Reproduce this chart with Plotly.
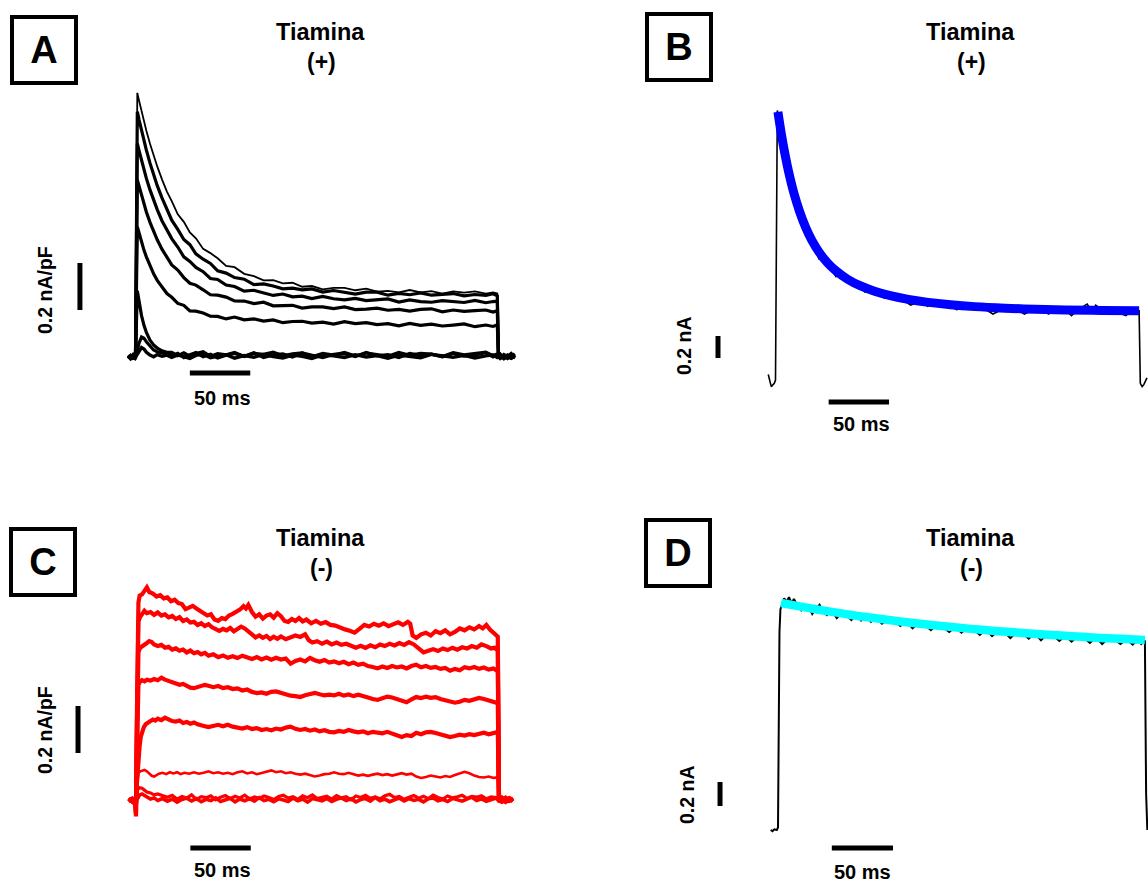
import plotly.graph_objects as go

# reference canvas is 1148x882; the page body margin is removed by a small post-script
REF_W, REF_H = 1148, 882
PAGE_MARGIN = 0
W, H = REF_W - 2 * PAGE_MARGIN, REF_H - 2 * PAGE_MARGIN

# ================= Panel A : Tiamina (+) , current density (nA/pF) vs time (ms)
tA = [-6, -4, -2, -0.5, 0, 1.5, 3, 5, 7, 9, 12, 15, 18, 22, 26, 30, 35, 40, 45, 50, 56, 62, 68, 75, 82,
      90, 98, 106, 114, 122, 130, 138, 146, 155, 164, 173, 182, 191, 200, 209, 218, 227, 236, 245, 254,
      263, 272, 281, 290, 296, 299.5, 300.5, 302, 305, 308, 311, 314]
a1 = [0.004, -0.006, 0.003, -0.004, 0.0,
      1.124, 1.090, 1.045, 1.003, 0.963, 0.907, 0.857, 0.811, 0.755, 0.704,
      0.663, 0.607, 0.575, 0.530, 0.505, 0.460, 0.442, 0.420, 0.388, 0.382, 0.354, 0.344, 0.326, 0.327,
      0.313, 0.316, 0.299, 0.302, 0.288, 0.294, 0.294, 0.284, 0.291, 0.278, 0.281, 0.275, 0.285, 0.275,
      0.280, 0.270, 0.279, 0.274, 0.279, 0.270, 0.275, 0.270,
      0.003, -0.008, 0.006, -0.004, 0.005, -0.002]
a2 = [-0.003, 0.005, -0.002, 0.004, 0.0,
      1.044, 1.008, 0.963, 0.920, 0.880, 0.825, 0.775, 0.729, 0.676, 0.628,
      0.582, 0.543, 0.500, 0.478, 0.439, 0.416, 0.398, 0.367, 0.357, 0.338, 0.331, 0.308, 0.311, 0.302,
      0.290, 0.293, 0.286, 0.290, 0.276, 0.283, 0.274, 0.268, 0.276, 0.276, 0.263, 0.271, 0.265, 0.273,
      0.263, 0.267, 0.270, 0.260, 0.266, 0.262, 0.269, 0.260,
      -0.004, 0.007, -0.003, 0.002, -0.006, 0.004]
a3 = [0.006, -0.003, 0.004, -0.005, 0.0,
      0.909, 0.877, 0.835, 0.797, 0.760, 0.711, 0.667, 0.627, 0.579, 0.539,
      0.504, 0.468, 0.426, 0.407, 0.381, 0.363, 0.334, 0.330, 0.306, 0.300, 0.280, 0.284, 0.273, 0.262,
      0.268, 0.256, 0.259, 0.249, 0.258, 0.248, 0.243, 0.249, 0.240, 0.244, 0.247, 0.234, 0.243, 0.236,
      0.233, 0.240, 0.237, 0.232, 0.241, 0.231, 0.236, 0.238,
      0.005, -0.006, 0.002, 0.007, -0.004, 0.001]
a4 = [-0.004, 0.003, -0.006, 0.002, 0.0,
      0.754, 0.724, 0.685, 0.650, 0.617, 0.573, 0.533, 0.499, 0.458, 0.424,
      0.392, 0.370, 0.338, 0.314, 0.306, 0.286, 0.265, 0.263, 0.255, 0.239, 0.238, 0.227, 0.233, 0.218,
      0.220, 0.220, 0.208, 0.213, 0.213, 0.206, 0.213, 0.202, 0.204, 0.208, 0.199, 0.203, 0.195, 0.203,
      0.205, 0.192, 0.200, 0.194, 0.197, 0.200, 0.191, 0.197,
      0.006, -0.002, 0.004, -0.007, 0.003, -0.003]
a5 = [0.002, -0.005, 0.006, -0.002, 0.0,
      0.554, 0.524, 0.488, 0.455, 0.426, 0.386, 0.354, 0.326, 0.295, 0.270,
      0.254, 0.228, 0.220, 0.196, 0.195, 0.187, 0.174, 0.173, 0.162, 0.170, 0.158, 0.162, 0.153, 0.158,
      0.146, 0.151, 0.152, 0.144, 0.148, 0.140, 0.150, 0.142, 0.146, 0.138, 0.142, 0.133, 0.143, 0.135,
      0.140, 0.132, 0.136, 0.141, 0.129, 0.136, 0.130, 0.137,
      -0.005, 0.004, -0.006, 0.005, -0.002, 0.006]
a6 = [0.008, -0.004, 0.010, -0.002, 0.0,
      0.282, 0.230, 0.176, 0.135, 0.105, 0.072, 0.051, 0.038, 0.026, 0.020,
      0.020, 0.006, 0.018, 0.004, 0.015, 0.022, 0.003, 0.014, 0.009, 0.019, 0.002, 0.016, 0.011, 0.021,
      0.005, 0.013, 0.018, 0.001, 0.015, 0.008, 0.020, 0.004, 0.017, 0.010, 0.003, 0.019, 0.007, 0.016,
      0.012, 0.002, 0.018, 0.009, 0.014, 0.021, 0.006, 0.013,
      0.004, 0.012, -0.005, 0.009, 0.000, 0.014]
a7 = [-0.006, 0.007, -0.003, 0.005, 0.0,
      0.030, 0.060, 0.085, 0.080, 0.065, 0.045, 0.030, 0.022, 0.018, 0.012,
      0.004, 0.016, -0.003, 0.010, 0.019, 0.001, 0.012, -0.004, 0.008, 0.015, 0.003, 0.018, -0.002, 0.009,
      0.013, 0.000, 0.017, 0.006, -0.003, 0.011, 0.014, 0.002, 0.019, 0.005, 0.010, -0.002, 0.015, 0.007,
      0.012, 0.001, 0.016, 0.004, 0.009, 0.018, 0.000, 0.010,
      0.009, -0.004, 0.011, 0.002, 0.015, -0.001]
a8 = [0.003, -0.008, 0.001, -0.005, 0.0,
      0.012, 0.030, 0.040, 0.034, 0.020, 0.008, 0.001, 0.010, 0.003, 0.008,
      -0.002, 0.009, 0.001, -0.006, 0.007, 0.012, -0.003, 0.004, 0.010, -0.005, 0.006, -0.001, 0.011, 0.002,
      -0.004, 0.008, 0.003, -0.006, 0.009, 0.005, -0.002, 0.010, 0.000, 0.006, -0.005, 0.008, 0.002, -0.003,
      0.011, 0.004, -0.001, 0.007, -0.004, 0.005, 0.009, -0.002,
      -0.002, 0.006, -0.007, 0.003, -0.004, 0.008]
tracesA = [a1, a2, a3, a4, a5, a6, a7, a8]
widthsA = [1.8, 3.2, 3.2, 3.2, 3.2, 3.2, 3.2, 3.4]

# ================= Panel C : Tiamina (-) , current density (nA/pF) vs time (ms)  (time, current) pairs
r1 = [(-6, 0.005), (-3, -0.008), (-1, 0.004), (0, -0.07), (0.6, 0.3), (1.2, 0.7), (2, 0.84), (3, 0.87), (5, 0.875),
      (7, 0.89), (9, 0.905), (11, 0.885), (14, 0.878), (17, 0.866), (20, 0.872), (23, 0.858), (26, 0.862), (29, 0.846),
      (32, 0.852), (35, 0.838), (38, 0.834), (41, 0.812), (44, 0.82), (47, 0.826), (50, 0.815), (53, 0.806), (56, 0.798),
      (59, 0.785), (62, 0.79), (65, 0.768), (68, 0.762), (71, 0.774), (74, 0.77), (77, 0.785), (80, 0.792), (83, 0.8),
      (86, 0.81), (89, 0.825), (91, 0.815), (93, 0.83), (96, 0.8), (99, 0.78), (102, 0.79), (105, 0.772), (108, 0.785),
      (111, 0.79), (114, 0.776), (117, 0.795), (120, 0.782), (123, 0.762), (126, 0.758), (129, 0.77), (132, 0.762),
      (135, 0.774), (138, 0.76), (141, 0.768), (145, 0.752), (149, 0.762), (153, 0.75), (157, 0.757), (161, 0.745),
      (165, 0.742), (169, 0.732), (173, 0.726), (177, 0.72), (181, 0.712), (185, 0.728), (189, 0.745), (193, 0.738),
      (197, 0.75), (201, 0.742), (205, 0.752), (209, 0.74), (213, 0.748), (217, 0.756), (221, 0.745), (225, 0.758),
      (227, 0.75), (229, 0.7), (232, 0.69), (236, 0.705), (240, 0.712), (244, 0.7), (248, 0.718), (252, 0.71),
      (256, 0.722), (260, 0.705), (264, 0.715), (268, 0.73), (272, 0.722), (276, 0.735), (280, 0.726), (284, 0.74),
      (287, 0.73), (290, 0.745), (293, 0.725), (296, 0.71), (299.5, 0.695), (300.5, -0.01), (303, 0.008),
      (306, -0.006), (309, 0.007), (312, -0.004)]
r2 = [(-6, -0.004), (-3, 0.006), (-1, -0.003), (0, -0.06), (0.6, 0.25), (1.2, 0.62), (2, 0.76), (3.5, 0.78), (5, 0.79),
      (7, 0.805), (9, 0.795), (12, 0.8), (15, 0.788), (18, 0.798), (21, 0.785), (24, 0.79), (27, 0.777), (30, 0.783),
      (33, 0.77), (36, 0.778), (39, 0.762), (42, 0.768), (45, 0.755), (48, 0.758), (51, 0.745), (54, 0.752), (57, 0.74),
      (60, 0.748), (63, 0.735), (66, 0.726), (69, 0.72), (72, 0.728), (75, 0.722), (78, 0.732), (81, 0.718), (84, 0.728),
      (87, 0.738), (90, 0.73), (93, 0.715), (96, 0.705), (99, 0.692), (102, 0.7), (105, 0.69), (108, 0.698), (111, 0.685),
      (114, 0.695), (117, 0.686), (120, 0.696), (124, 0.684), (128, 0.693), (132, 0.7), (136, 0.694), (140, 0.705),
      (143, 0.68), (146, 0.67), (150, 0.676), (154, 0.665), (158, 0.674), (162, 0.662), (166, 0.67), (170, 0.66),
      (174, 0.665), (178, 0.655), (182, 0.648), (186, 0.656), (190, 0.647), (194, 0.658), (198, 0.65), (202, 0.662),
      (206, 0.655), (210, 0.665), (214, 0.658), (218, 0.668), (222, 0.66), (226, 0.672), (230, 0.662), (234, 0.645),
      (238, 0.628), (242, 0.635), (246, 0.642), (250, 0.634), (254, 0.645), (258, 0.638), (262, 0.648), (266, 0.64),
      (270, 0.65), (274, 0.645), (278, 0.655), (282, 0.648), (286, 0.662), (290, 0.655), (294, 0.645), (297, 0.648),
      (299.5, 0.635), (300.5, 0.0), (303, -0.006), (306, 0.009), (309, -0.003), (312, 0.005)]
r3 = [(-6, 0.006), (-3, -0.005), (-1, 0.003), (0, -0.02), (0.6, 0.2), (1.2, 0.5), (2, 0.63), (3.5, 0.648), (5, 0.655),
      (7, 0.66), (9, 0.668), (11, 0.676), (13, 0.672), (15, 0.662), (18, 0.655), (21, 0.66), (24, 0.648), (27, 0.652),
      (30, 0.64), (33, 0.645), (36, 0.635), (39, 0.64), (42, 0.628), (45, 0.636), (48, 0.625), (51, 0.63), (54, 0.62),
      (57, 0.626), (60, 0.614), (64, 0.62), (68, 0.608), (72, 0.615), (76, 0.605), (80, 0.612), (84, 0.604), (88, 0.614),
      (92, 0.606), (96, 0.6), (100, 0.608), (104, 0.598), (108, 0.606), (112, 0.597), (116, 0.605), (120, 0.598),
      (124, 0.602), (128, 0.58), (132, 0.592), (136, 0.598), (140, 0.59), (144, 0.605), (148, 0.595), (152, 0.588),
      (156, 0.596), (160, 0.585), (164, 0.59), (168, 0.582), (172, 0.588), (176, 0.578), (180, 0.585), (184, 0.575),
      (188, 0.58), (192, 0.57), (196, 0.566), (200, 0.56), (204, 0.568), (208, 0.562), (212, 0.57), (216, 0.564),
      (220, 0.568), (224, 0.56), (228, 0.57), (232, 0.576), (236, 0.565), (240, 0.57), (244, 0.562), (248, 0.566),
      (252, 0.558), (256, 0.562), (260, 0.55), (264, 0.558), (268, 0.552), (272, 0.565), (276, 0.56), (280, 0.566),
      (284, 0.558), (288, 0.564), (292, 0.555), (296, 0.56), (299.5, 0.548), (300.5, 0.004), (303, -0.007),
      (306, 0.003), (309, 0.008), (312, -0.005)]
r4 = [(-6, -0.006), (-3, 0.004), (-1, -0.002), (0, -0.01), (0.6, 0.15), (1.2, 0.38), (2, 0.49), (3.5, 0.505), (5, 0.51),
      (7, 0.505), (9, 0.512), (12, 0.508), (15, 0.515), (18, 0.51), (21, 0.52), (24, 0.512), (27, 0.506), (30, 0.5),
      (33, 0.496), (36, 0.49), (39, 0.494), (42, 0.484), (45, 0.478), (48, 0.476), (51, 0.482), (54, 0.486), (57, 0.49),
      (60, 0.486), (64, 0.48), (68, 0.485), (72, 0.476), (76, 0.48), (80, 0.472), (84, 0.475), (88, 0.466), (92, 0.47),
      (96, 0.46), (100, 0.455), (104, 0.458), (108, 0.452), (112, 0.46), (116, 0.462), (120, 0.455), (124, 0.45),
      (128, 0.444), (132, 0.442), (136, 0.438), (140, 0.446), (144, 0.452), (148, 0.456), (152, 0.45), (156, 0.445),
      (160, 0.448), (164, 0.445), (168, 0.452), (172, 0.444), (176, 0.449), (180, 0.442), (184, 0.448), (188, 0.44),
      (192, 0.436), (196, 0.43), (200, 0.426), (204, 0.433), (208, 0.44), (212, 0.436), (216, 0.43), (220, 0.422),
      (224, 0.416), (228, 0.428), (232, 0.438), (236, 0.434), (240, 0.44), (244, 0.435), (248, 0.438), (252, 0.43),
      (256, 0.426), (260, 0.42), (264, 0.414), (268, 0.418), (272, 0.426), (276, 0.422), (280, 0.43), (284, 0.434),
      (288, 0.43), (292, 0.424), (296, 0.418), (299.5, 0.412), (300.5, -0.004), (303, 0.006), (306, -0.008),
      (309, 0.002), (312, 0.007)]
r5 = [(-6, 0.004), (-3, -0.006), (-1, 0.002), (0, -0.005), (0.6, 0.06), (1.2, 0.12), (2, 0.17), (3, 0.23), (4, 0.27),
      (5, 0.29), (6.5, 0.31), (8, 0.322), (10, 0.332), (12, 0.336), (14, 0.342), (16, 0.338), (18, 0.346), (21, 0.34),
      (24, 0.35), (27, 0.342), (30, 0.336), (33, 0.334), (36, 0.338), (39, 0.328), (42, 0.332), (45, 0.325), (48, 0.33),
      (51, 0.322), (54, 0.316), (57, 0.314), (60, 0.31), (64, 0.316), (68, 0.32), (72, 0.314), (76, 0.32), (80, 0.312),
      (84, 0.31), (88, 0.304), (92, 0.31), (96, 0.302), (100, 0.306), (104, 0.298), (108, 0.302), (112, 0.297),
      (116, 0.304), (120, 0.3), (124, 0.308), (128, 0.312), (132, 0.303), (136, 0.298), (140, 0.302), (144, 0.295),
      (148, 0.3), (152, 0.292), (156, 0.297), (160, 0.29), (164, 0.288), (168, 0.294), (172, 0.29), (176, 0.298),
      (180, 0.292), (184, 0.288), (188, 0.292), (192, 0.284), (196, 0.29), (200, 0.286), (204, 0.284), (208, 0.29),
      (212, 0.282), (216, 0.274), (220, 0.268), (224, 0.276), (228, 0.272), (232, 0.286), (236, 0.28), (240, 0.288),
      (244, 0.29), (248, 0.285), (252, 0.28), (256, 0.274), (260, 0.268), (264, 0.272), (268, 0.278), (272, 0.274),
      (276, 0.28), (280, 0.276), (284, 0.283), (288, 0.286), (292, 0.28), (296, 0.285), (299.5, 0.29), (300.5, 0.003),
      (303, -0.005), (306, 0.008), (309, -0.002), (312, 0.004)]
r6 = [(-6, -0.003), (-3, 0.005), (-1, -0.004), (0, 0.0), (0.6, 0.05), (1.2, 0.09), (2, 0.115), (3.5, 0.122), (5, 0.125),
      (7, 0.128), (9, 0.122), (11, 0.112), (13, 0.103), (15, 0.1), (17, 0.106), (19, 0.112), (22, 0.116), (25, 0.11),
      (28, 0.118), (31, 0.113), (34, 0.118), (37, 0.11), (40, 0.116), (44, 0.112), (48, 0.118), (52, 0.112), (56, 0.116),
      (60, 0.122), (64, 0.114), (68, 0.118), (72, 0.112), (76, 0.116), (80, 0.11), (84, 0.118), (88, 0.122), (92, 0.113),
      (96, 0.118), (100, 0.11), (104, 0.115), (108, 0.12), (112, 0.126), (116, 0.118), (120, 0.122), (124, 0.114),
      (128, 0.118), (132, 0.112), (136, 0.108), (140, 0.112), (144, 0.106), (148, 0.1), (152, 0.104), (156, 0.11),
      (160, 0.112), (164, 0.118), (168, 0.112), (172, 0.11), (176, 0.116), (180, 0.109), (184, 0.104), (188, 0.108),
      (192, 0.103), (196, 0.108), (200, 0.112), (204, 0.106), (208, 0.11), (212, 0.104), (216, 0.108), (220, 0.114),
      (224, 0.108), (228, 0.112), (232, 0.1), (236, 0.094), (240, 0.098), (244, 0.104), (248, 0.1), (252, 0.096),
      (256, 0.102), (260, 0.098), (264, 0.106), (268, 0.112), (272, 0.12), (276, 0.114), (280, 0.104), (284, 0.098),
      (288, 0.096), (292, 0.1), (296, 0.094), (299.5, 0.096), (300.5, 0.002), (303, 0.0), (306, -0.004), (309, 0.006),
      (312, -0.002)]
tCb = [-6, -3, -1, 0, 0.6, 1.5, 3, 5, 7, 9, 12, 15, 18, 22,
       26, 30, 34, 38, 42, 46, 50, 54, 58, 62, 66, 70, 74, 78, 82, 86, 90, 94, 98, 102, 106, 110, 114, 118, 122,
       126, 130, 134, 138, 142, 146, 150, 154, 158, 162, 166, 170, 174, 178, 182, 186, 190, 194, 198, 202, 206,
       210, 214, 218, 222, 226, 230, 234, 238, 242, 246, 250, 254, 258, 262, 266, 270, 274, 278, 282, 286, 290,
       294, 298, 300.5, 303, 306, 309, 312]
r7 = [0.008, -0.004, 0.006, -0.04, 0.02, 0.045, 0.052, 0.05, 0.042, 0.034, 0.03, 0.022, 0.026, 0.018,
      0.012, 0.02, 0.004, 0.015, 0.008, 0.022, 0.003, 0.014, 0.01, 0.018, 0.001, 0.012, 0.019, 0.006, 0.016,
      0.009, 0.021, 0.004, 0.013, 0.007, 0.017, 0.011, 0.002, 0.015, 0.02, 0.008, 0.014, 0.003, 0.018, 0.01,
      0.022, 0.006, 0.012, 0.016, 0.004, 0.019, 0.009, 0.014, 0.001, 0.017, 0.011, 0.02, 0.007, 0.013, 0.005,
      0.018, 0.024, 0.01, 0.015, 0.003, 0.012, 0.019, 0.008, 0.016, 0.006, 0.021, 0.011, 0.004, 0.017, 0.009,
      0.014, 0.02, 0.007, 0.015, 0.012, 0.018, 0.005, 0.013, 0.01,
      0.002, 0.012, -0.004, 0.008, 0.001]
r8 = [-0.004, 0.007, -0.002, -0.03, 0.0, 0.012, 0.022, 0.026, 0.02, 0.012, 0.004, 0.009, -0.002, 0.006,
      -0.005, 0.004, -0.009, 0.002, 0.008, -0.004, 0.006, -0.007, 0.003, -0.002, 0.009, -0.006, 0.001, 0.007,
      -0.008, 0.004, -0.003, 0.006, -0.005, 0.01, -0.002, 0.003, -0.007, 0.005, 0.0, -0.006, 0.008, -0.003,
      0.004, -0.009, 0.006, 0.001, -0.004, 0.007, -0.006, 0.003, 0.009, -0.002, 0.005, -0.008, 0.002, 0.006,
      -0.005, 0.011, -0.003, 0.004, -0.007, 0.001, 0.008, -0.004, 0.006, -0.002, 0.003, -0.008, 0.005, 0.009,
      -0.003, 0.002, -0.006, 0.007, 0.0, -0.005, 0.004, 0.012, -0.002, 0.005, -0.006, 0.003, 0.008,
      -0.003, 0.006, 0.01, -0.004, 0.005]

# ================= Panel B : Tiamina (+) , current (nA) vs time (ms)
rawB = [(-6, 0.05), (-3.5, -0.06), (-1, -0.03), (0, 0.0), (1.5, 2.45), (4, 2.29), (8, 2.04), (12, 1.85), (16, 1.67),
        (20, 1.52), (25, 1.38), (30, 1.26), (33, 1.19), (36, 1.10), (40, 1.12), (45, 1.03), (50, 0.94), (55, 0.955),
        (62, 0.90), (70, 0.85), (74, 0.80), (78, 0.82), (86, 0.80), (90, 0.745), (95, 0.76), (104, 0.735),
        (112, 0.68), (120, 0.72), (126, 0.67), (130, 0.70), (140, 0.695), (150, 0.64), (160, 0.675), (170, 0.668),
        (180, 0.60), (190, 0.655), (200, 0.64), (206, 0.60), (210, 0.62), (220, 0.645), (226, 0.60), (230, 0.63),
        (240, 0.64), (245, 0.585), (250, 0.635), (258, 0.69), (262, 0.62), (265, 0.68), (270, 0.64), (275, 0.6),
        (280, 0.63), (290, 0.585), (296, 0.635), (300, 0.63), (301, 0.63), (302, -0.03), (303.5, -0.06),
        (305, -0.04), (307.5, 0.02)]
tB_fit = [2, 5, 8, 11, 15, 20, 25, 30, 36, 43, 50, 60, 70, 82, 95, 110, 125, 145, 165, 190, 215, 240, 270, 301]
fitB = [2.437, 2.225, 2.044, 1.886, 1.708, 1.530, 1.387, 1.272, 1.164, 1.066, 0.993, 0.914, 0.857, 0.807,
        0.767, 0.733, 0.708, 0.684, 0.667, 0.653, 0.643, 0.637, 0.632, 0.629]

# ================= Panel D : Tiamina (-) , current (nA) vs time (ms)
rawD = [(-6, 0.0), (-4.5, -0.01), (-3, 0.005), (-1, 0.0), (0, 0.02), (0.6, 0.9), (1.2, 1.65), (2, 1.84), (3.5, 1.89),
        (5, 1.93), (7, 1.905), (9, 1.94), (11, 1.89), (13, 1.925), (16, 1.87), (19, 1.83), (22, 1.875), (25, 1.86),
        (28, 1.80), (31, 1.845), (34, 1.878), (37, 1.82), (40, 1.79), (44, 1.83), (48, 1.765), (52, 1.81), (56, 1.79),
        (60, 1.75), (64, 1.80), (68, 1.745), (72, 1.78), (76, 1.735), (80, 1.77), (85, 1.72), (90, 1.755), (95, 1.74),
        (100, 1.70), (105, 1.74), (110, 1.68), (115, 1.725), (120, 1.71), (125, 1.665), (130, 1.71), (135, 1.69),
        (140, 1.65), (145, 1.69), (150, 1.645), (155, 1.685), (160, 1.67), (165, 1.625), (170, 1.672), (175, 1.615),
        (180, 1.66), (185, 1.65), (190, 1.60), (195, 1.648), (200, 1.64), (205, 1.595), (210, 1.64), (215, 1.58),
        (220, 1.63), (225, 1.62), (230, 1.575), (235, 1.618), (240, 1.57), (245, 1.615), (250, 1.605), (255, 1.56),
        (260, 1.605), (265, 1.55), (270, 1.598), (275, 1.59), (280, 1.55), (285, 1.59), (290, 1.545), (294, 1.588),
        (297, 1.55), (300, 1.58), (301, 0.3), (301.5, 0.02), (302, 0.0)]
tD_fit = [2.5, 20, 40, 60, 80, 100, 120, 140, 160, 180, 200, 220, 240, 260, 280, 300]
fitD = [1.892, 1.859, 1.824, 1.792, 1.764, 1.738, 1.715, 1.694, 1.674, 1.657, 1.642, 1.628, 1.615, 1.603,
        1.593, 1.583]

# scale bars (data units): 50 ms and 0.2 (nA/pF or nA)
scale_ms = 50
scale_amp = 0.2

# ----------------------------------------------------------------------------------
# panel geometry in reference pixels: region, pulse-onset pixel, px per ms, baseline pixel, px per unit current
panels = {
    "A": dict(ax="", region=(0, 574, 0, 441), onset=135.5, k=1.208, base=357, s=235),
    "B": dict(ax="2", region=(574, 1148, 0, 441), onset=775.5, k=1.208, base=380, s=110),
    "C": dict(ax="3", region=(0, 574, 441, 882), onset=136, k=1.208, base=800, s=235),
    "D": dict(ax="4", region=(574, 1148, 441, 882), onset=778, k=1.223, base=830, s=120),
}


def fx(x):  # reference pixel -> paper fraction
    return (x - PAGE_MARGIN) / W


def fy(y):
    return 1 - (y - PAGE_MARGIN) / H


fig = go.Figure()
layout_axes = {}
for name, p in panels.items():
    x0, x1, y0, y1 = p["region"]
    layout_axes["xaxis" + p["ax"]] = dict(
        domain=[fx(x0), fx(x1)],
        range=[(x0 - p["onset"]) / p["k"], (x1 - p["onset"]) / p["k"]],
        visible=False, fixedrange=True, anchor="y" + p["ax"])
    layout_axes["yaxis" + p["ax"]] = dict(
        domain=[fy(y1), fy(y0)],
        range=[(p["base"] - y1) / p["s"], (p["base"] - y0) / p["s"]],
        visible=False, fixedrange=True, anchor="x" + p["ax"])


def line(x, y, ax, color, width, shape="linear"):
    n = min(len(x), len(y))
    fig.add_trace(go.Scatter(x=list(x)[:n], y=list(y)[:n], mode="lines",
                             line=dict(color=color, width=width, shape=shape),
                             xaxis="x" + ax, yaxis="y" + ax,
                             showlegend=False, hoverinfo="skip"))


def pairs(lst):
    return [a for a, b in lst], [b for a, b in lst]


# Panel A traces
for tr, w in zip(tracesA, widthsA):
    line(tA, tr, "", "black", w)

# Panel C traces
for tr, w in zip([r1, r2, r3, r4, r5, r6], [4.2, 4.2, 4.2, 4.2, 4.2, 2.6]):
    tx, ty = pairs(tr)
    line(tx, ty, "3", "#ff0000", w)
line(tCb, r7, "3", "#ff0000", 3.2)
line(tCb, r8, "3", "#ff0000", 3.6)

# Panel B
bx, by = pairs(rawB)
line(bx, by, "2", "black", 1.6)
line(tB_fit, fitB, "2", "#0000ff", 9, "spline")

# Panel D
dx, dy = pairs(rawD)
line(dx, dy, "4", "black", 2)
line(tD_fit, fitD, "4", "#00ffff", 8.5, "spline")

# scale bars: horizontal (time origin, level) and vertical (time, start level)
bars = {
    "": dict(h=(45, -0.068), v=(-46, 0.2)),
    "2": dict(h=(44, -0.2), v=(-47.6, 0.2)),
    "3": dict(h=(45, -0.204), v=(-48, 0.2)),
    "4": dict(h=(44, -0.15), v=(-47.4, 0.2)),
}
for ax, b in bars.items():
    ht, hy = b["h"]
    line([ht, ht + scale_ms], [hy, hy], ax, "black", 5)
    vt, vy = b["v"]
    line([vt, vt], [vy, vy + scale_amp], ax, "black", 5)

FONT = "Liberation Sans, Arial, Helvetica, sans-serif"
ann = []


def text(t, x, y, size, angle=0):
    ann.append(dict(text="<b>%s</b>" % t, x=fx(x), y=fy(y), xref="paper", yref="paper",
                    showarrow=False, xanchor="center", yanchor="middle", textangle=angle,
                    font=dict(family=FONT, size=size, color="black")))


def boxed(t, x, y):
    ann.append(dict(text="<b>%s</b>" % t, x=fx(x), y=fy(y), xref="paper", yref="paper",
                    showarrow=False, xanchor="center", yanchor="middle",
                    width=60, height=62, borderpad=0, borderwidth=4, bordercolor="black",
                    bgcolor="white", font=dict(family=FONT, size=38, color="black")))


boxed("A", 44, 50)
boxed("B", 679, 47)
boxed("C", 43, 562)
boxed("D", 678, 553)

for (x, y, sub) in [(320, 32, "(+)"), (970, 32, "(+)"), (320, 538, "(-)"), (970, 538, "(-)")]:
    text("Tiamina", x, y, 23.5)
    text(sub, x + 1, y + 30, 23)

text("0.2 nA/pF", 45, 290, 19.5, -90)
text("0.2 nA/pF", 45, 730, 19.5, -90)
text("0.2 nA", 684, 346, 19.5, -90)
text("0.2 nA", 687, 795, 19.5, -90)

text("50 ms", 222, 398, 20)
text("50 ms", 861, 424, 20)
text("50 ms", 222, 870, 20)
text("50 ms", 862, 872, 20)

fig.update_layout(width=W, height=H, margin=dict(l=0, r=0, t=0, b=0),
                  paper_bgcolor="white", plot_bgcolor="white",
                  annotations=ann, **layout_axes)

fig.write_html("out.html", config={"displayModeBar": False, "staticPlot": True},
               post_script="document.body.style.margin='0';document.body.style.overflow='hidden';")
